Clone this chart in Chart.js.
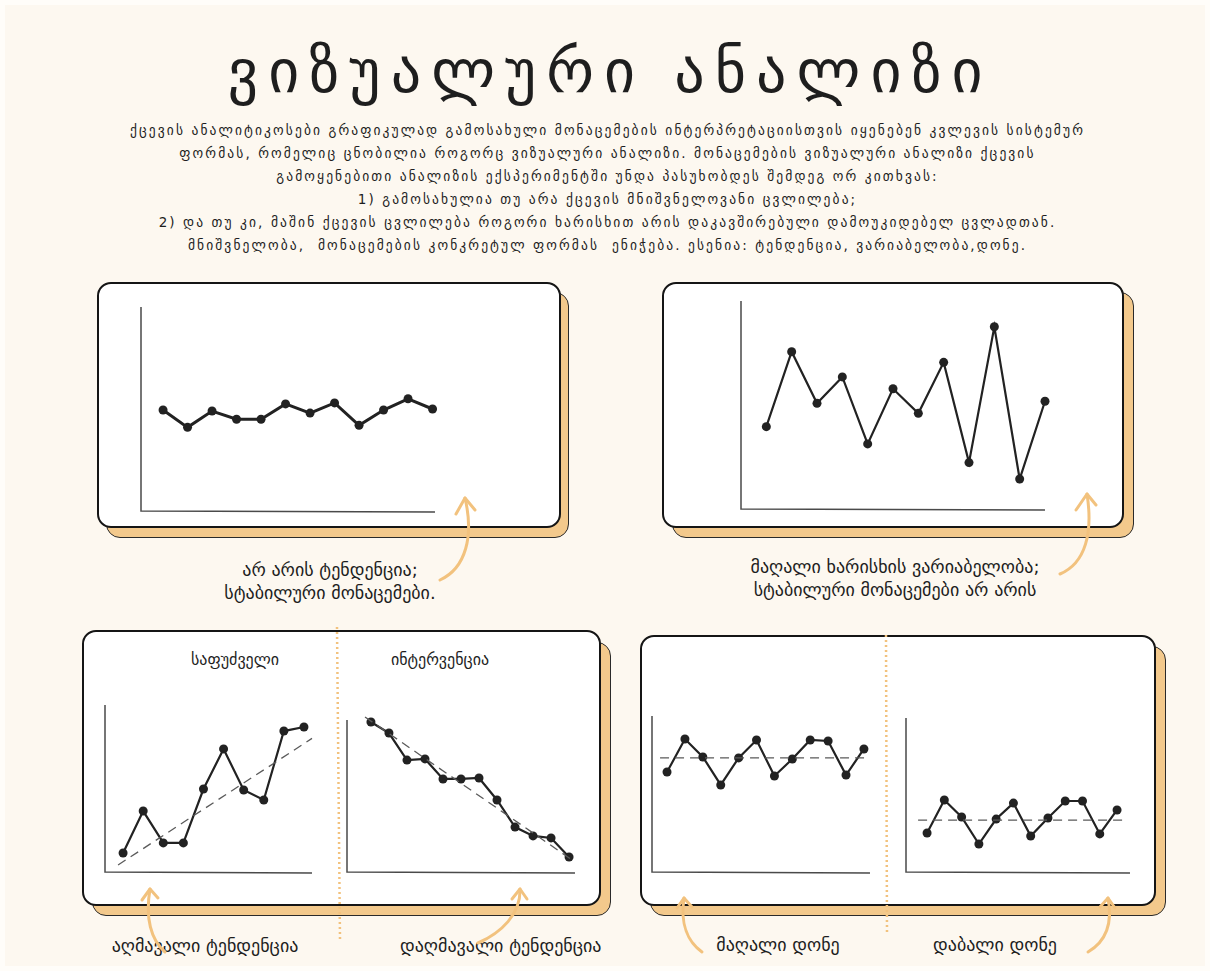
<!DOCTYPE html>
<html>
<head>
<meta charset="utf-8">
<script src="https://cdn.jsdelivr.net/npm/chart.js@4.4.1/dist/chart.umd.min.js"></script>
<style>
  html, body { margin: 0; padding: 0; }
  body { width: 1210px; height: 971px; background: #fffdf9; position: relative; overflow: hidden; font-family: "DejaVu Sans", sans-serif; color: #1e1e1e; }
  #page { position: absolute; left: 5px; top: 5px; width: 1200px; height: 961px; background: #fdf8f0; }
  .abs { position: absolute; }
  #title { left: 0; width: 1220px; top: 36px; text-align: center; font-size: 60px; letter-spacing: 10px; font-weight: 400; }
  #para { left: 40px; width: 1135px; top: 119px; text-align: center; font-size: 13.5px; line-height: 23px; letter-spacing: 2.1px; }
  .shadow { background: #f3c98c; border: 1.5px solid #2a2a2a; border-radius: 14px; box-sizing: border-box; }
  .card { background: #fff; border: 2.5px solid #151515; border-radius: 14px; box-sizing: border-box; }
  .cap { text-align: center; font-size: 18px; line-height: 23px; white-space: nowrap; }
  .sub { text-align: center; font-size: 16px; white-space: nowrap; }
  canvas { position: absolute; }
</style>
</head>
<body>
<div id="page"></div>

<div id="title" class="abs">ვიზუალური ანალიზი</div>
<div id="para" class="abs">
ქცევის ანალიტიკოსები გრაფიკულად გამოსახული მონაცემების ინტერპრეტაციისთვის იყენებენ კვლევის სისტემურ<br>
ფორმას, რომელიც ცნობილია როგორც ვიზუალური ანალიზი. მონაცემების ვიზუალური ანალიზი ქცევის<br>
გამოყენებითი ანალიზის ექსპერიმენტში უნდა პასუხობდეს შემდეგ ორ კითხვას:<br>
1) გამოსახულია თუ არა ქცევის მნიშვნელოვანი ცვლილება;<br>
2) და თუ კი, მაშინ ქცევის ცვლილება როგორი ხარისხით არის დაკავშირებული დამოუკიდებელ ცვლადთან.<br>
მნიშვნელობა,&nbsp; მონაცემების კონკრეტულ ფორმას&nbsp; ენიჭება. ესენია: ტენდენცია, ვარიაბელობა,დონე.
</div>

<!-- cards -->
<div class="abs shadow" style="left:106px;top:292px;width:463px;height:246px"></div>
<div class="abs card" style="left:97px;top:282px;width:464px;height:246px"></div>

<div class="abs shadow" style="left:672px;top:292px;width:462px;height:246px"></div>
<div class="abs card" style="left:662px;top:282px;width:462px;height:246px"></div>

<div class="abs shadow" style="left:92px;top:642px;width:519px;height:274px"></div>
<div class="abs card" style="left:82px;top:630px;width:519px;height:276px"></div>

<div class="abs shadow" style="left:650px;top:646px;width:516px;height:270px"></div>
<div class="abs card" style="left:640px;top:635px;width:516px;height:271px"></div>

<div class="abs sub" style="left:135px;width:200px;top:650px">საფუძველი</div>
<div class="abs sub" style="left:340px;width:200px;top:650px">ინტერვენცია</div>

<div class="abs cap" style="left:180px;width:300px;top:558px">არ არის ტენდენცია;<br>სტაბილური მონაცემები.</div>
<div class="abs cap" style="left:745px;width:300px;top:555px">მაღალი ხარისხის ვარიაბელობა;<br>სტაბილური მონაცემები არ არის</div>
<div class="abs cap" style="left:105px;width:200px;top:934px">აღმავალი ტენდენცია</div>
<div class="abs cap" style="left:400px;width:200px;top:934px">დაღმავალი ტენდენცია</div>
<div class="abs cap" style="left:678px;width:200px;top:933px">მაღალი დონე</div>
<div class="abs cap" style="left:895px;width:200px;top:933px">დაბალი დონე</div>

<div id="charts"></div>

<svg class="abs" style="left:0;top:0" width="1210" height="971">
  <g fill="none" stroke="#f2c27e" stroke-width="3" stroke-linecap="round" stroke-linejoin="round">
    <path d="M440 580 C466 568 474 536 465 498"/>
    <path d="M456 514 L465 498 L475 510"/>
    <path d="M1060 574 C1086 563 1093 532 1087 494"/>
    <path d="M1076 510 L1087 494 L1096 505"/>
    <path d="M165 952 C151 940 145 918 150 889"/>
    <path d="M142 900 L150 889 L158 898"/>
    <path d="M478 943 C501 933 521 914 520 889"/>
    <path d="M512 899 L520 889 L527 899"/>
    <path d="M702 952 C688 942 680 924 684 898"/>
    <path d="M677 908 L684 898 L692 907"/>
    <path d="M1088 952 C1105 942 1113 924 1108 898"/>
    <path d="M1100 907 L1108 898 L1115 908"/>
  </g>
  <g stroke="#f2c27e" stroke-width="2.5" stroke-dasharray="2 3">
    <line x1="337" y1="627" x2="340" y2="940"/>
    <line x1="886" y1="635" x2="887" y2="935"/>
  </g>
</svg>

<script>
// panel 1: no trend, stable
const stableX = [1, 2, 3, 4, 5, 6, 7, 8, 9, 10, 11, 12];
const stableY = [4.95, 4.1, 4.9, 4.5, 4.5, 5.25, 4.8, 5.3, 4.2, 4.95, 5.5, 5.0];

// panel 2: high variability
const varX = [1, 2, 3, 4, 5, 6, 7, 8, 9, 10, 11, 12];
const varY = [3.96, 7.56, 5.08, 6.35, 3.13, 5.78, 4.6, 7.05, 2.23, 8.76, 1.44, 5.18];

// panel 3: baseline (rising) / intervention (falling)
const baseX = [1, 2, 3, 4, 5, 6, 7, 8, 9, 10];
const baseY = [1.14, 3.65, 1.74, 1.74, 4.97, 7.37, 4.91, 4.31, 8.44, 8.68];
const baseTrend = [[0.75, 0.42], [10.4, 8.0]];
const intX = [1, 2, 3, 4, 5, 6, 7, 8, 9, 10, 11, 12];
const intY = [8.98, 8.32, 6.7, 6.77, 5.57, 5.57, 5.63, 4.31, 2.69, 2.16, 2.04, 0.9];
const intTrend = [[0.67, 9.28], [12.17, 0.72]];

// panel 4: high level / low level
const highX = [1, 2, 3, 4, 5, 6, 7, 8, 9, 10, 11, 12];
const highY = [6.25, 8.31, 7.19, 5.44, 7.13, 8.25, 6.0, 7.06, 8.25, 8.19, 6.06, 7.69];
const highMean = [[0.61, 7.13], [12.34, 7.13]];
const lowX = [1, 2, 3, 4, 5, 6, 7, 8, 9, 10, 11, 12];
const lowY = [2.44, 4.5, 3.44, 1.75, 3.31, 4.31, 2.25, 3.38, 4.44, 4.44, 2.38, 3.88];
const lowMean = [[0.48, 3.25], [12.52, 3.25]];

const axisLines = {
    id: 'axisLines',
    afterDraw(chart) {
        const a = chart.chartArea;
        const c = chart.ctx;
        c.save();
        c.strokeStyle = '#4a4a4a';
        c.lineWidth = 1.5;
        c.beginPath();
        c.moveTo(a.left, a.top);
        c.lineTo(a.left, a.bottom);
        c.lineTo(a.right, a.bottom + 1);
        c.stroke();
        c.restore();
    }
};

function pts(xs, ys) {
    return xs.map((x, i) => ({x: x, y: ys[i]}));
}

function lineSet(xs, ys, w) {
    return {
        data: pts(xs, ys),
        borderColor: '#222',
        backgroundColor: '#222',
        borderWidth: w,
        pointRadius: 4.5,
        pointBackgroundColor: '#222',
        pointBorderWidth: 0,
        tension: 0,
        clip: false
    };
}

function dashSet(pair) {
    return {
        data: pair.map(p => ({x: p[0], y: p[1]})),
        borderColor: '#5a5a5a',
        borderWidth: 1.3,
        borderDash: [9, 6],
        pointRadius: 0,
        clip: false
    };
}

// box = axis corner coordinates on the page
function makeChart(box, datasets, xmin, xmax, ymax) {
    const P = 14;
    const cv = document.createElement('canvas');
    const w = box.r - box.l + 2 * P;
    const h = box.b - box.t + 2 * P;
    cv.width = w;
    cv.height = h;
    cv.style.left = (box.l - P) + 'px';
    cv.style.top = (box.t - P) + 'px';
    cv.style.width = w + 'px';
    cv.style.height = h + 'px';
    document.getElementById('charts').appendChild(cv);
    new Chart(cv.getContext('2d'), {
        type: 'line',
        data: {datasets: datasets},
        options: {
            responsive: false,
            animation: false,
            layout: {padding: P},
            plugins: {legend: {display: false}, tooltip: {enabled: false}},
            scales: {
                x: {type: 'linear', min: xmin, max: xmax, display: false},
                y: {type: 'linear', min: 0, max: ymax, display: false}
            }
        },
        plugins: [axisLines]
    });
}

makeChart({l: 141, t: 307, r: 435, b: 511}, [lineSet(stableX, stableY, 3)], 0.1, 12.1, 10);
makeChart({l: 741, t: 301, r: 1045, b: 509}, [lineSet(varX, varY, 2.2)], 0, 12, 10);
makeChart({l: 105, t: 705, r: 312, b: 872}, [dashSet(baseTrend), lineSet(baseX, baseY, 2.2)], 0.1, 10.4, 10);
makeChart({l: 347, t: 720, r: 575, b: 872}, [dashSet(intTrend), lineSet(intX, intY, 2.2)], -0.33, 12.33, 9.1);
makeChart({l: 652, t: 716, r: 870, b: 872}, [dashSet(highMean), lineSet(highX, highY, 2.2)], 0.16, 12.34, 9.75);
makeChart({l: 906, t: 718, r: 1130, b: 872}, [dashSet(lowMean), lineSet(lowX, lowY, 2.2)], -0.22, 12.75, 9.63);
</script>
</body>
</html>
